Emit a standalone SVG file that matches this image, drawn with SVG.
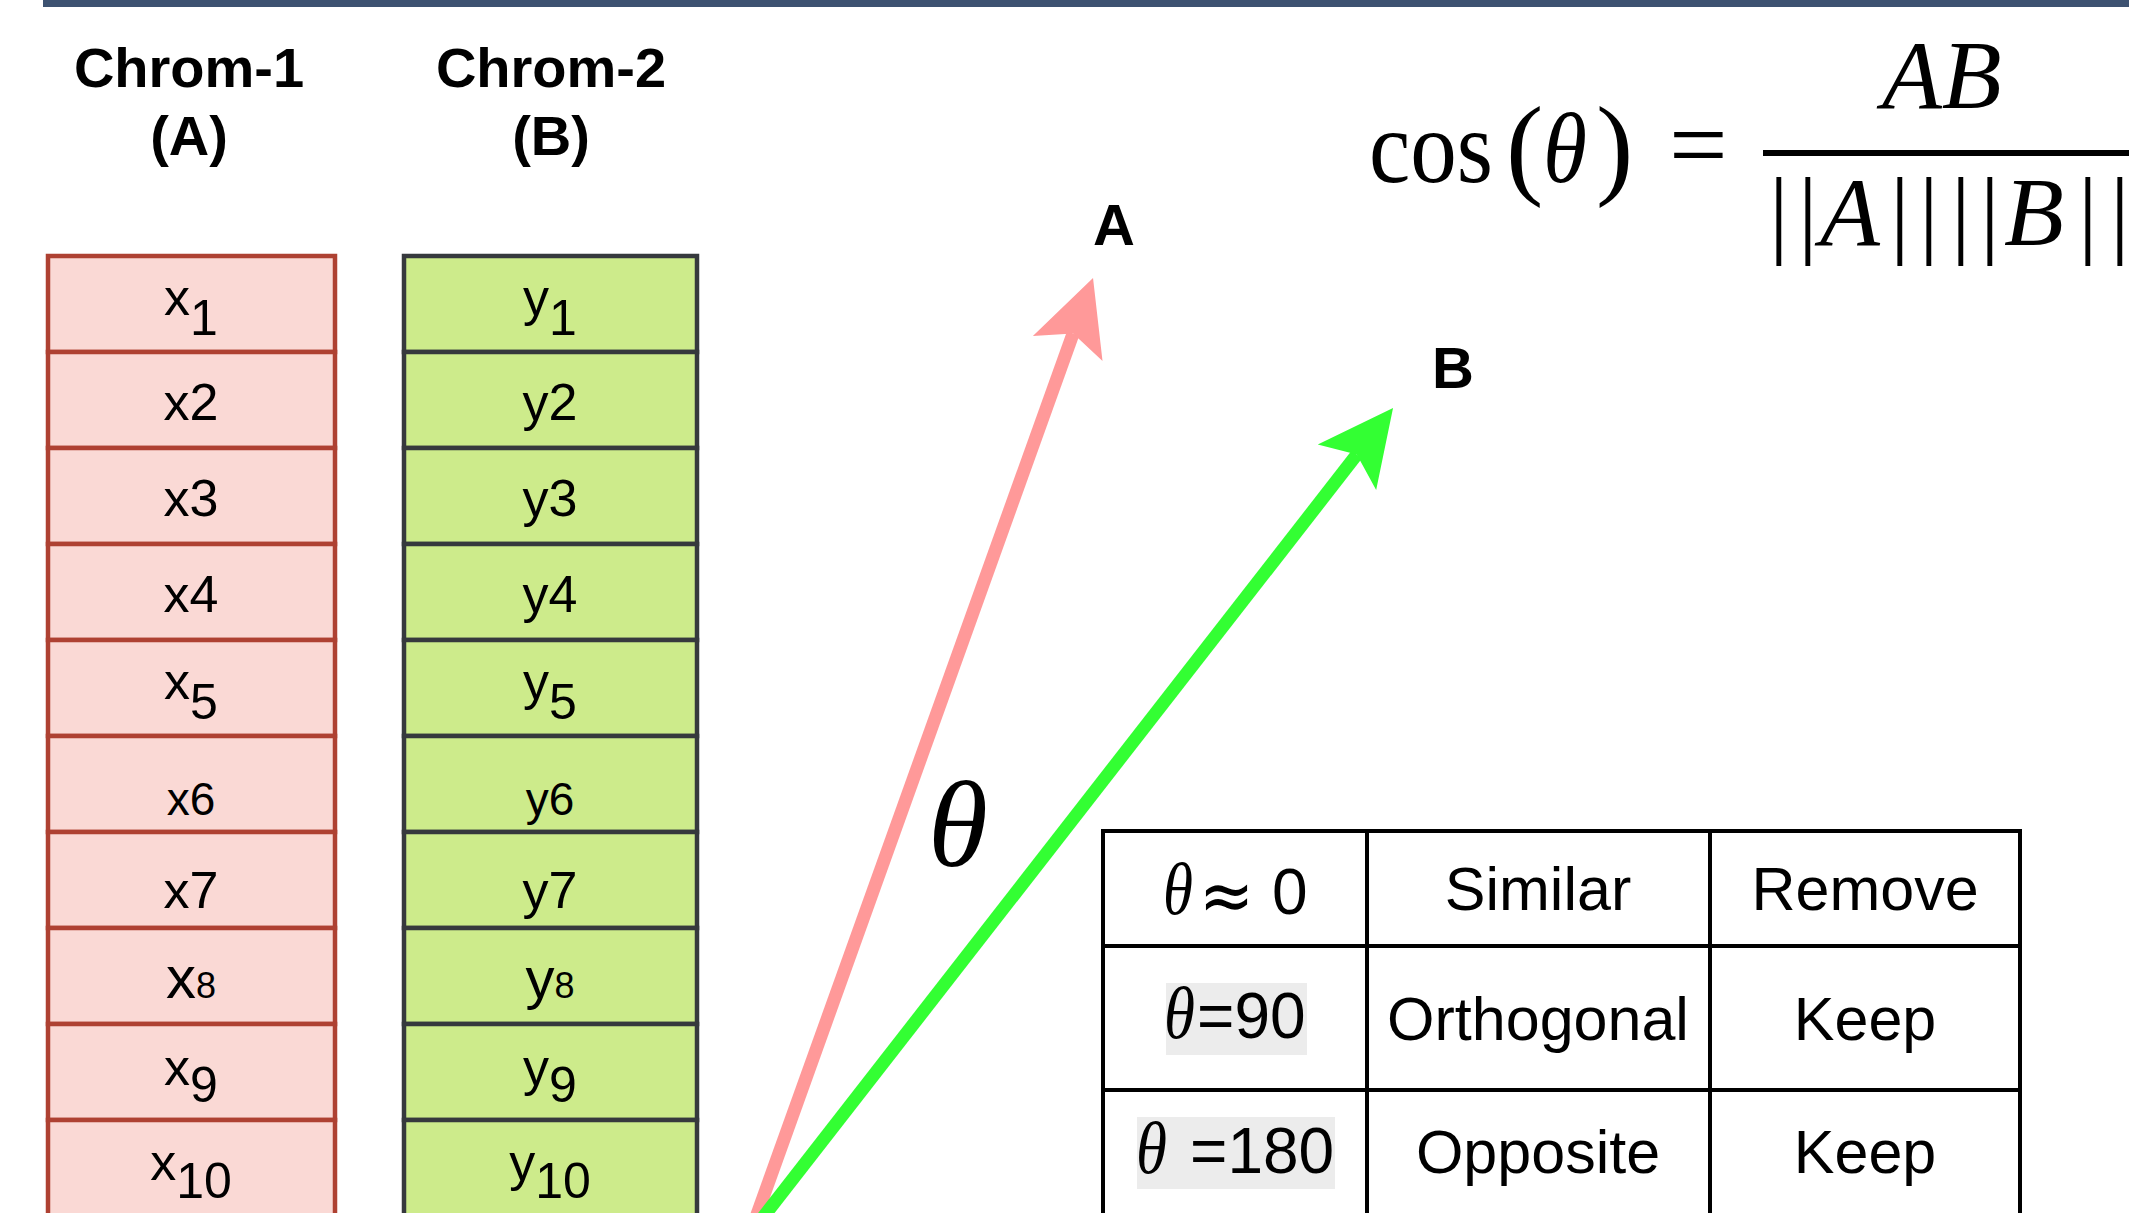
<svg xmlns="http://www.w3.org/2000/svg" width="2129" height="1213" viewBox="0 0 2129 1213">
<style>
  .hdr { font-family: "Liberation Sans", Arial, sans-serif; font-weight: bold; font-size: 56px; fill: #000; text-anchor: middle; }
  .cellA { fill: #fad9d5; stroke: #ae4132; stroke-width: 4.5; }
  .cellB { fill: #cdeb8b; stroke: #36393d; stroke-width: 4.5; }
  .lbl { font-family: "Liberation Sans", Arial, sans-serif; font-size: 52px; fill: #000; text-anchor: middle; }
  .sm { font-size: 46px; }
  .vec { font-family: "Liberation Sans", Arial, sans-serif; font-weight: bold; font-size: 58px; fill: #000; }
  .math { font-family: "Liberation Serif", "Times New Roman", serif; fill: #000; }
  .it { font-style: italic; }
  .tbl { font-family: "Liberation Sans", Arial, sans-serif; font-size: 61px; fill: #000; text-anchor: middle; }
  .tbl2 { font-family: "Liberation Sans", Arial, sans-serif; font-size: 64px; fill: #000; }
  .th { font-family: "Liberation Serif", "Times New Roman", serif; font-style: italic; font-size: 74px; fill: #000; }
  .grid { fill: none; stroke: #000; stroke-width: 4; }
</style>
<defs>
  <marker id="headPink" markerUnits="userSpaceOnUse" orient="auto" refX="0" refY="0" markerWidth="140" markerHeight="140" overflow="visible">
    <path d="M59,0 L-16,-37 L0,0 L-16,37 Z" fill="#ff9999"/>
  </marker>
  <marker id="headGreen" markerUnits="userSpaceOnUse" orient="auto" refX="0" refY="0" markerWidth="140" markerHeight="140" overflow="visible">
    <path d="M59,0 L-16,-37 L0,0 L-16,37 Z" fill="#33ff33"/>
  </marker>
</defs>
<rect x="0" y="0" width="2129" height="1213" fill="#ffffff"/>
<rect id="topbar" x="43" y="0" width="2086" height="7" fill="#3d5271"/>

<g id="header-chrom1">
  <text class="hdr" x="189" y="87">Chrom-1</text>
  <text class="hdr" x="189" y="155">(A)</text>
</g>
<g id="header-chrom2">
  <text class="hdr" x="551" y="87">Chrom-2</text>
  <text class="hdr" x="551" y="155">(B)</text>
</g>

<g id="chrom1">
  <g id="a1"><rect class="cellA" x="48" y="256" width="287" height="96"/><text class="lbl" x="191" y="315">x<tspan dy="20" font-size="50">1</tspan></text></g>
  <g id="a2"><rect class="cellA" x="48" y="352" width="287" height="96"/><text class="lbl" x="191" y="420">x2</text></g>
  <g id="a3"><rect class="cellA" x="48" y="448" width="287" height="96"/><text class="lbl" x="191" y="516">x3</text></g>
  <g id="a4"><rect class="cellA" x="48" y="544" width="287" height="96"/><text class="lbl" x="191" y="612">x4</text></g>
  <g id="a5"><rect class="cellA" x="48" y="640" width="287" height="96"/><text class="lbl" x="191" y="699">x<tspan dy="20" font-size="50">5</tspan></text></g>
  <g id="a6"><rect class="cellA" x="48" y="736" width="287" height="96"/><text class="lbl sm" x="191" y="815">x6</text></g>
  <g id="a7"><rect class="cellA" x="48" y="832" width="287" height="96"/><text class="lbl" x="191" y="908">x7</text></g>
  <g id="a8"><rect class="cellA" x="48" y="928" width="287" height="96"/><text class="lbl" x="191" y="998"><tspan font-size="60">x</tspan><tspan font-size="36">8</tspan></text></g>
  <g id="a9"><rect class="cellA" x="48" y="1024" width="287" height="96"/><text class="lbl" x="191" y="1085">x<tspan dy="17" font-size="50">9</tspan></text></g>
  <g id="a10"><rect class="cellA" x="48" y="1120" width="287" height="96"/><text class="lbl" x="191" y="1180">x<tspan dy="18" font-size="50">10</tspan></text></g>
</g>

<g id="chrom2">
  <g id="b1"><rect class="cellB" x="404" y="256" width="293" height="96"/><text class="lbl" x="550" y="315">y<tspan dy="20" font-size="50">1</tspan></text></g>
  <g id="b2"><rect class="cellB" x="404" y="352" width="293" height="96"/><text class="lbl" x="550" y="420">y2</text></g>
  <g id="b3"><rect class="cellB" x="404" y="448" width="293" height="96"/><text class="lbl" x="550" y="516">y3</text></g>
  <g id="b4"><rect class="cellB" x="404" y="544" width="293" height="96"/><text class="lbl" x="550" y="612">y4</text></g>
  <g id="b5"><rect class="cellB" x="404" y="640" width="293" height="96"/><text class="lbl" x="550" y="699">y<tspan dy="20" font-size="50">5</tspan></text></g>
  <g id="b6"><rect class="cellB" x="404" y="736" width="293" height="96"/><text class="lbl sm" x="550" y="815">y6</text></g>
  <g id="b7"><rect class="cellB" x="404" y="832" width="293" height="96"/><text class="lbl" x="550" y="908">y7</text></g>
  <g id="b8"><rect class="cellB" x="404" y="928" width="293" height="96"/><text class="lbl" x="550" y="998"><tspan font-size="58">y</tspan><tspan font-size="36">8</tspan></text></g>
  <g id="b9"><rect class="cellB" x="404" y="1024" width="293" height="96"/><text class="lbl" x="550" y="1085">y<tspan dy="17" font-size="50">9</tspan></text></g>
  <g id="b10"><rect class="cellB" x="404" y="1120" width="293" height="96"/><text class="lbl" x="550" y="1180">y<tspan dy="18" font-size="50">10</tspan></text></g>
</g>

<g id="connectors">
  <line id="vecA" x1="750" y1="1234" x2="1073.1" y2="333.5" stroke="#ff9999" stroke-width="13" marker-end="url(#headPink)"/>
  <line id="vecB" x1="750" y1="1234" x2="1356.8" y2="454.6" stroke="#33ff33" stroke-width="13" marker-end="url(#headGreen)"/>
</g>

<g id="label-A"><text class="vec" x="1093" y="245">A</text></g>
<g id="label-B"><text class="vec" x="1432" y="388">B</text></g>
<g id="label-theta"><text class="math it" x="928" y="866" font-size="122">θ</text></g>

<g id="formula">
  <text class="math" x="1369" y="182" font-size="104" textLength="124" lengthAdjust="spacingAndGlyphs">cos</text>
  <text class="math" x="1506" y="184" font-size="112">(</text>
  <text class="math it" x="1543" y="182" font-size="100" textLength="44" lengthAdjust="spacingAndGlyphs">θ</text>
  <text class="math" x="1596" y="184" font-size="112">)</text>
  <text class="math" x="1669" y="180" font-size="104">=</text>
  <rect x="1763" y="150" width="366" height="6" fill="#000"/>
  <text class="math it" x="1882" y="108" font-size="98">AB</text>
  <text class="math" y="245" font-size="98"><tspan x="1769">|</tspan><tspan x="1798">|</tspan><tspan class="it" x="1820">A</tspan><tspan x="1890">|</tspan><tspan x="1919">|</tspan><tspan x="1951">|</tspan><tspan x="1980">|</tspan><tspan class="it" x="2004">B</tspan><tspan x="2078">|</tspan><tspan x="2110">|</tspan></text>
</g>

<g id="table">
  <rect x="1166" y="983" width="141" height="72" fill="#ececec"/>
  <rect x="1137" y="1117" width="198" height="72" fill="#ececec"/>
  <rect class="grid" x="1103" y="831" width="917" height="420"/>
  <line class="grid" x1="1103" y1="946" x2="2020" y2="946"/>
  <line class="grid" x1="1103" y1="1090" x2="2020" y2="1090"/>
  <line class="grid" x1="1367" y1="831" x2="1367" y2="1251"/>
  <line class="grid" x1="1710" y1="831" x2="1710" y2="1251"/>
  <g id="row1">
    <text class="th" x="1163" y="914" textLength="30" lengthAdjust="spacingAndGlyphs">θ</text>
    <text x="1199" y="920" font-family="DejaVu Sans, sans-serif" font-size="72" textLength="55" lengthAdjust="spacingAndGlyphs" fill="#000">≈</text>
    <text class="tbl2" x="1272" y="914" font-size="68">0</text>
    <text class="tbl" x="1538" y="910">Similar</text>
    <text class="tbl" x="1865" y="910">Remove</text>
  </g>
  <g id="row2">
    <text class="th" x="1164" y="1038" textLength="31" lengthAdjust="spacingAndGlyphs">θ</text>
    <text class="tbl2" x="1197" y="1038">=90</text>
    <text class="tbl" x="1538" y="1040">Orthogonal</text>
    <text class="tbl" x="1865" y="1040">Keep</text>
  </g>
  <g id="row3">
    <text class="th" x="1136" y="1173" textLength="31" lengthAdjust="spacingAndGlyphs">θ</text>
    <text class="tbl2" x="1190" y="1173" font-size="61">=180</text>
    <text class="tbl" x="1538" y="1173">Opposite</text>
    <text class="tbl" x="1865" y="1173">Keep</text>
  </g>
</g>
</svg>
